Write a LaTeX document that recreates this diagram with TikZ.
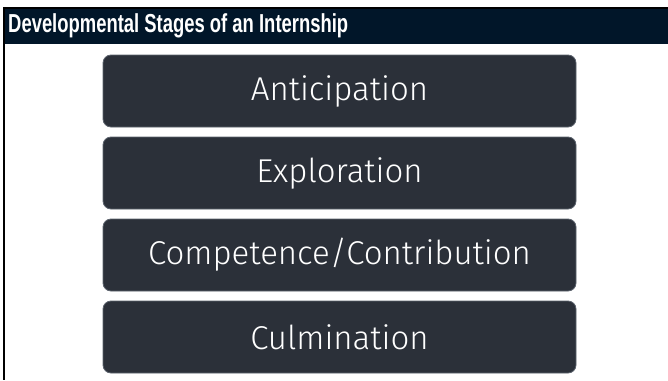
\documentclass[tikz,border=0pt]{standalone}
\usepackage{fontspec}
\newfontfamily\headfont{Liberation Sans}
\newfontfamily\stagefont{Fira Sans Light}
\usepackage{graphicx}
\definecolor{headnavy}{HTML}{011629}
\definecolor{stagefill}{HTML}{2B3039}
\definecolor{stageedge}{HTML}{5C636D}
\tikzset{
  stagebox/.style={draw=stageedge, line width=0.8pt, fill=stagefill, rounded corners=8pt,
    minimum width=473pt, minimum height=72pt, inner sep=0pt,
    text=white, font=\stagefont\fontsize{33}{38}\selectfont},
}
\begin{document}
\begin{tikzpicture}[x=1pt,y=-1pt]
      \useasboundingbox (0,0) rectangle (668,380);

      \fill[headnavy] (3,7) rectangle (668,44);
      \draw[black, line width=2pt] (3,8) -- (668,8);
      \draw[black, line width=2pt] (4,7) -- (4,380);
      \node(title)[anchor=base west, text=white, inner sep=0pt] at (8,32)
        {\resizebox{340pt}{\height}{\headfont\bfseries\fontsize{26}{28}\selectfont Developmental Stages of an Internship}};

      \node(s1)[stagebox] at (339.5,91){Anticipation};
      \node(s2)[stagebox] at (339.5,173){Exploration};
      \node(s3)[stagebox] at (339.5,255){Competence/Contribution};
      \node(s4)[stagebox] at (339.5,337){Culmination};

    \end{tikzpicture}
\end{document}
